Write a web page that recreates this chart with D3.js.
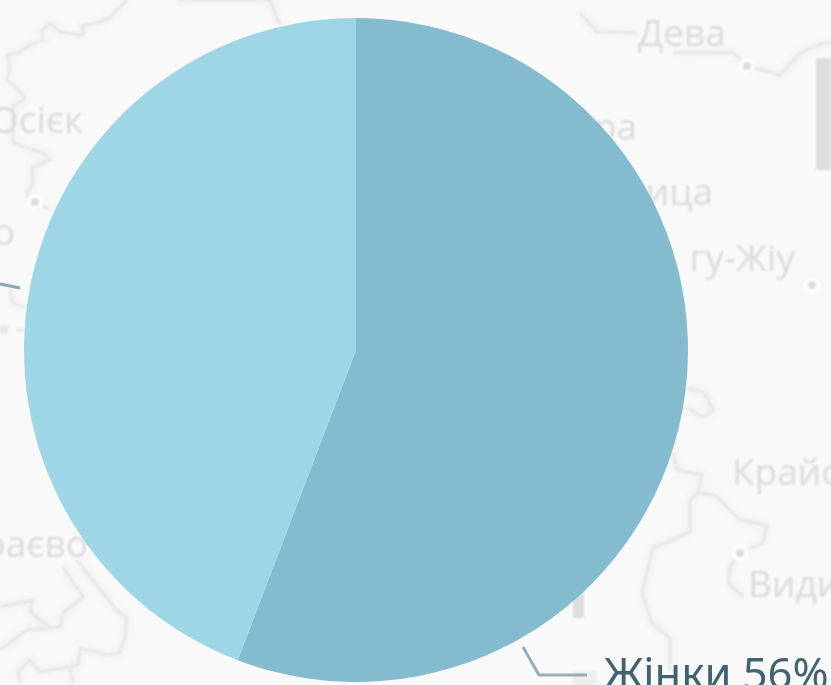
<!DOCTYPE html>
<html><head><meta charset="utf-8">
<style>html,body{margin:0;padding:0;background:#f9f9f9;overflow:hidden}svg{display:block}</style>
<script src="https://cdn.jsdelivr.net/npm/d3@7"></script></head>
<body><svg id="c" width="831" height="685"></svg>
<script>
const categories = ["Жінки", "Чоловіки"];
const sliceValues = [55.8, 44.2];
const labelPercents = [56, 44];
const sliceColors = ["#85bbce", "#9ed6e5"];
const mapLabels = ["Дева", "Осієк", "ра", "ица", "гу-Жіу", "Крайо", "Види", "раєво", "о"];
const W = 831, H = 685;
const svg = d3.select("#c");
svg.append("rect").attr("width", W).attr("height", H).attr("fill", "#f9f9f9");

const defs = svg.append("defs");
defs.append("filter").attr("id", "soft").append("feGaussianBlur").attr("stdDeviation", 0.85);
defs.append("filter").attr("id", "halo").append("feGaussianBlur").attr("stdDeviation", 3);

/* faint basemap behind the pie */
const base = svg.append("g").attr("filter", "url(#soft)");
const roads = [
 "M127,0 L110,17 L100,22 L83,25 L83,35 L60,32 L50,23 L42,30 L43,40 L30,45 L20,52 L7,55 L10,67 L7,80 L17,88 L25,98 L13,107 L13,143 L43,153 L50,160 L32,167 L33,183 L27,193 L35,202 L50,210",
 "M580,13 L597,32 L637,33 M673,53 L733,52 L747,66 L780,75 L800,53 L823,43 L831,43",
 "M687,388 L703,392 L714,410 L703,417 L687,408 M673,453 L677,470 L702,475 L698,493 L715,495 L740,520 L767,525 L763,543 L750,548",
 "M698,493 L690,500 L690,532 L653,548 L642,593 L652,623 L670,638 L670,670",
 "M740,553 L730,567 L728,583 L743,597",
 "M77,560 L118,612 L127,617 L125,637 L120,653 L107,655 L80,648 L78,665 L40,672 L30,660 L18,672 L20,683",
 "M63,567 L83,597 L63,613 L60,627 L27,630 L0,650 M0,607 L33,600 L30,612 L50,627 M70,670 L73,683",
 "M10,290 L13,303 L25,308",
 "M178,0 L270,0 L280,24"
];
base.selectAll("path.halo").data(roads).join("path").attr("class","halo").attr("d", d => d)
  .attr("fill","none").attr("stroke","#f2f2f2").attr("stroke-width",8).attr("filter","url(#halo)");
base.selectAll("path.road").data(roads).join("path").attr("class","road").attr("d", d => d)
  .attr("fill","none").attr("stroke","#e5e5e5").attr("stroke-width",2.4);

const labelPos = [[638,46],[-10,133],[637,140,"end"],[713,205,"end"],[795,271,"end"],[732,485],[748,597],[88,557,"end"],[15,245,"end"]];
base.selectAll("text").data(mapLabels).join("text")
  .attr("x",(d,i)=>labelPos[i][0]).attr("y",(d,i)=>labelPos[i][1])
  .attr("text-anchor",(d,i)=>labelPos[i][2]||"start")
  .attr("font-family","'Open Sans',sans-serif").attr("font-size",37)
  .attr("fill","#dcdcdc").text(d=>d);
[[747,66],[812,285],[35,202],[740,553]].forEach(p=>{
  base.append("circle").attr("cx",p[0]).attr("cy",p[1]).attr("r",8).attr("fill","#fdfdfd");
  base.append("circle").attr("cx",p[0]).attr("cy",p[1]).attr("r",4).attr("fill","#dcdcdc");
});
base.append("rect").attr("x",816).attr("y",58).attr("width",15).attr("height",112).attr("fill","#dedede");
base.append("rect").attr("x",573).attr("y",585).attr("width",11).attr("height",33).attr("fill","#dedede");
base.append("rect").attr("x",573).attr("y",671).attr("width",24).attr("height",14).attr("fill","#eeeeee");
base.append("rect").attr("x",0).attr("y",325).attr("width",8).attr("height",9).attr("fill","#e8e8e8");
base.append("rect").attr("x",16).attr("y",328).attr("width",8).attr("height",4).attr("fill","#e8e8e8");

/* pie */
const cx = 356, cy = 350, R = 332;
const pie = d3.pie().sort(null).value(d => d);
const arc = d3.arc().innerRadius(0).outerRadius(R);
svg.append("g").attr("transform",`translate(${cx},${cy})`)
  .selectAll("path").data(pie(sliceValues)).join("path")
  .attr("d", arc).attr("fill",(d,i)=>sliceColors[i]);

/* leaders + label */
const line = d3.line();
svg.append("path").attr("d",line([[523,647],[539,675],[587,675]]))
  .attr("fill","none").attr("stroke","#9aaeb6").attr("stroke-width",3);
svg.append("path").attr("d",line([[0,284],[20,288]]))
  .attr("fill","none").attr("stroke","#8fa6b1").attr("stroke-width",3);
svg.append("text").attr("x",604).attr("y",689)
  .attr("font-family","'Noto Sans',sans-serif").attr("font-size",43.5)
  .attr("fill","#41636f").text(`${categories[0]} ${labelPercents[0]}%`);
</script></body></html>
